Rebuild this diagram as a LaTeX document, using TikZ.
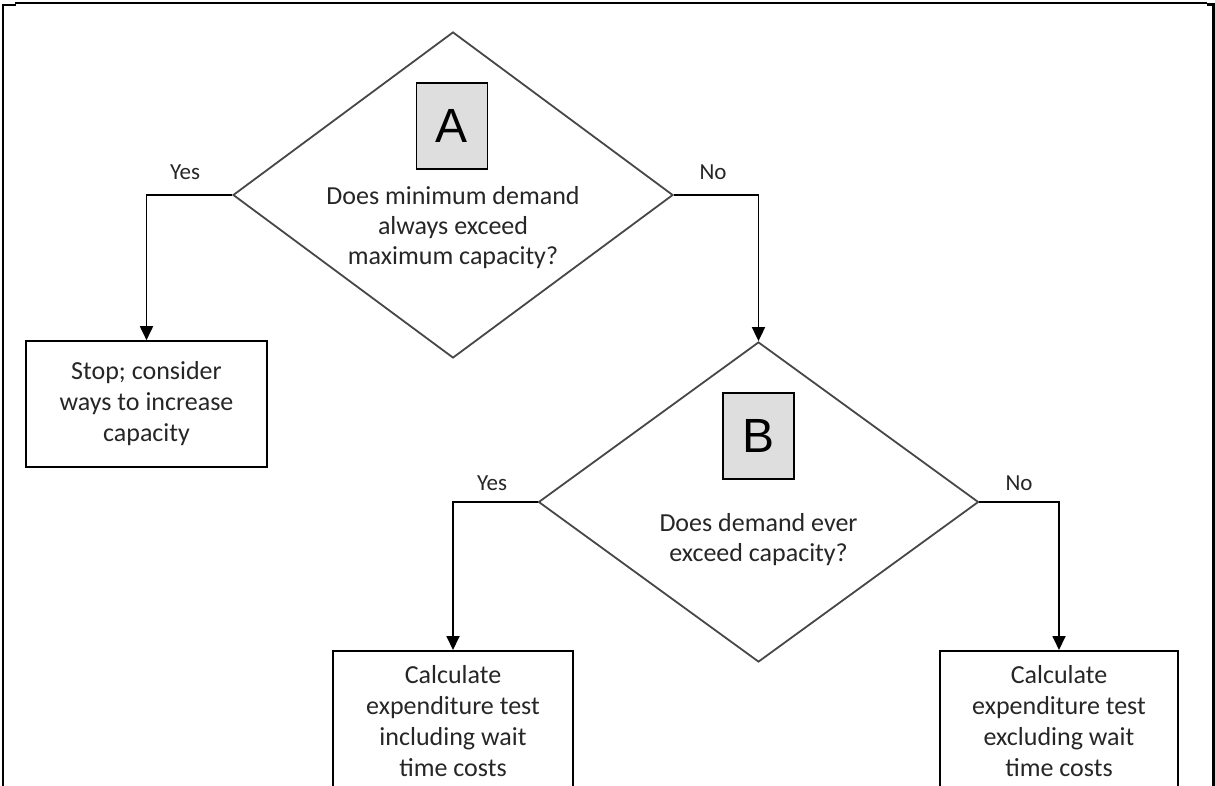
\documentclass[tikz,border=0pt]{standalone}
\usepackage{fontspec}
\setmainfont{Carlito}
\newfontfamily\letterfont{Liberation Sans}
\usetikzlibrary{shapes.geometric,arrows.meta}
\begin{document}
\begin{tikzpicture}[x=1pt,y=-1pt,
  decision/.style={diamond, draw=black!72, line width=1.8pt, inner sep=0pt, minimum width=440pt, minimum height=326pt},
  letterbox/.style={rectangle, draw=black, line width=1.5pt, fill=black!13, minimum width=71pt, minimum height=86pt, inner sep=0pt, font=\letterfont\fontsize{48}{50}\selectfont},
  question/.style={align=center, inner sep=0pt, font=\fontsize{26}{30}\selectfont, text=black!85},
  result/.style={rectangle, draw=black, line width=1.6pt, align=center, inner sep=0pt, font=\fontsize{26}{31}\selectfont, text=black!85},
  conn/.style={draw=black, line width=1.8pt, -{Triangle[width=13pt,length=14pt]}},
  lbl/.style={font=\fontsize{23}{26}\selectfont, text=black!85},
  framethick/.style={draw=black, line width=2.5pt},
  framethin/.style={draw=black, line width=1.5pt}
]
\useasboundingbox (0,0) rectangle (1215,786);
\clip (0,0) rectangle (1215,786);

% frame
\draw[framethick] (3,786) -- (3,4);
\draw[framethick] (3,5) -- (16,5);
\draw[framethin] (15,3) -- (1207,3);
\draw[framethick] (1207,4.5) -- (1215,4.5);
\draw[framethick] (1213.5,4) -- (1213.5,786);

% decision A
\node[decision] (dA) at (453,195) {};
\node[letterbox] (bA) at (452,126) {A};
\node[question] (qA) at (453,228) {Does minimum demand\\always exceed\\maximum capacity?};

% decision B
\node[decision, minimum height=320pt] (dB) at (758.5,502) {};
\node[letterbox] (bB) at (758.5,436) {B};
\node[question] (qB) at (758.5,540) {Does demand ever\\exceed capacity?};

% results
\node[result, minimum width=241pt, minimum height=126pt] (stop) at (146.5,404) {Stop; consider\\ways to increase\\capacity};
\node[result, minimum width=240pt, minimum height=156pt, anchor=north] (inc) at (453,650) {};
\node[result, minimum width=238pt, minimum height=156pt, anchor=north] (exc) at (1059,650) {};
\node[result, draw=none] (incT) at (453,721) {Calculate\\expenditure test\\including wait\\time costs};
\node[result, draw=none] (excT) at (1059,721) {Calculate\\expenditure test\\excluding wait\\time costs};

% connectors
\draw[conn] (dA.west) -| (stop.north);
\draw[conn] (dA.east) -| (dB.north);
\draw[conn] (dB.west) -| (inc.north);
\draw[conn] (dB.east) -| (exc.north);

% labels
\node[lbl] (yA) at (185,172) {Yes};
\node[lbl] (nA) at (713,172) {No};
\node[lbl] (yB) at (492,483) {Yes};
\node[lbl] (nB) at (1019,483) {No};
\end{tikzpicture}
\end{document}
